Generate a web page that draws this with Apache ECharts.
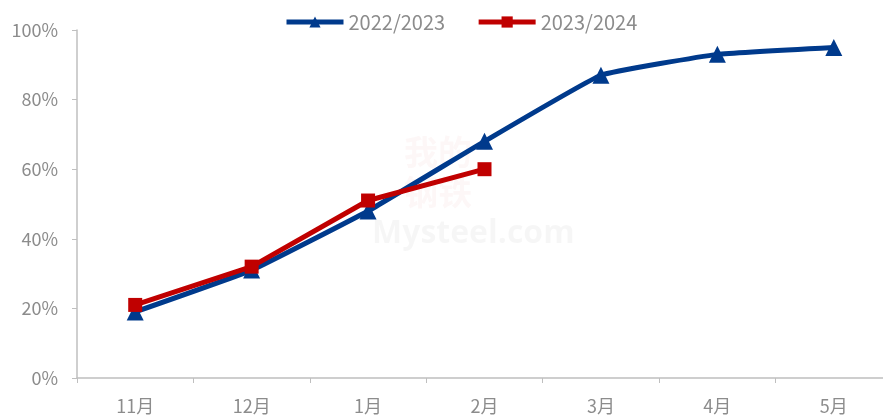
<!DOCTYPE html>
<html>
<head>
<meta charset="utf-8">
<script src="https://cdn.jsdelivr.net/npm/echarts@6/dist/echarts.min.js"></script>
<style>
  html, body { margin: 0; padding: 0; background: #fff; overflow: hidden; }
  #chart { width: 892px; height: 417px; }
</style>
</head>
<body>
<div id="chart"></div>
<script>
// 月份
var months = ['11月', '12月', '1月', '2月', '3月', '4月', '5月'];
// 进度 (%)
var s2223 = [19, 31, 48, 68, 87, 93, 95];
var s2324 = [21, 32, 51, 60];
var yTicks = [0, 20, 40, 60, 80, 100];

var chart = echarts.init(document.getElementById('chart'));
var gray = '#8c8c8c';
var font = '"Noto Sans CJK SC", "Noto Sans", sans-serif';

chart.setOption({
  animation: false,
  textStyle: { fontFamily: font },
  legend: {
    top: 7,
    left: 279,
    itemWidth: 57,
    itemHeight: 14,
    itemGap: 31,
    textStyle: { color: gray, fontSize: 20, fontFamily: font },
    lineStyle: { width: 5 },
    data: ['2022/2023', '2023/2024']
  },
  graphic: [
    {
      type: 'text', left: 404, top: 132, silent: true,
      style: { text: '我的\n钢铁', font: 'bold 34px "Noto Sans CJK SC"', fill: 'rgba(200,60,60,0.04)', lineHeight: 40 }
    },
    {
      type: 'text', left: 372, top: 218, silent: true,
      style: { text: 'Mysteel.com', font: 'bold 32px "Open Sans"', fill: 'rgba(0,0,0,0.035)' }
    }
  ],
  grid: { left: 77, top: 30, right: 0, height: 348, containLabel: false },
  xAxis: {
    type: 'category',
    data: months,
    boundaryGap: true,
    axisLine: { lineStyle: { color: '#bfbfbf', width: 1.5 } },
    axisTick: { show: true, alignWithLabel: false, length: 5, lineStyle: { color: '#bfbfbf' } },
    axisLabel: { color: gray, fontSize: 18, margin: 19 }
  },
  yAxis: {
    type: 'value',
    min: 0, max: 100, interval: 20,
    splitLine: { show: false },
    axisLine: { show: true, lineStyle: { color: '#bfbfbf', width: 1.5 } },
    axisTick: { show: true, length: 5, lineStyle: { color: '#bfbfbf' } },
    axisLabel: {
      color: gray, fontSize: 18, margin: 19,
      formatter: function (v) { return yTicks.indexOf(v) >= 0 ? v + '%' : ''; }
    }
  },
  series: [
    {
      name: '2022/2023',
      type: 'line',
      data: s2223,
      smooth: 0.1,
      symbol: 'triangle',
      symbolSize: 17,
      itemStyle: { color: '#003a8c' },
      lineStyle: { color: '#003a8c', width: 5 }
    },
    {
      name: '2023/2024',
      type: 'line',
      data: s2324,
      symbol: 'rect',
      symbolSize: 14,
      itemStyle: { color: '#c00000' },
      lineStyle: { color: '#c00000', width: 5 },
      z: 3
    }
  ]
});
</script>
</body>
</html>
